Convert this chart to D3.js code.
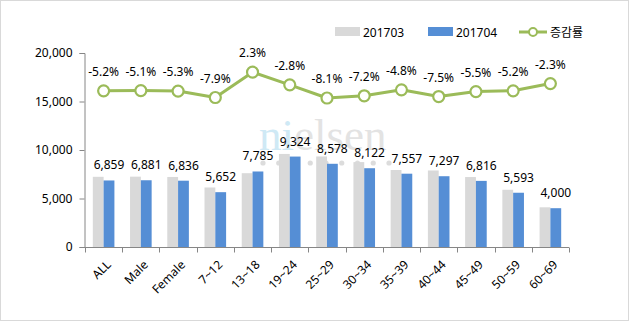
<!DOCTYPE html>
<html><head><meta charset="utf-8">
<script src="https://cdn.jsdelivr.net/npm/d3@7"></script>
<style>
html,body{margin:0;padding:0;background:#fff;}
svg text{font-family:"Noto Sans","Noto Sans CJK KR",sans-serif;}
</style></head>
<body><svg id="c" width="630" height="322"></svg>
<script>
const categories = ["ALL","Male","Female","7~12","13~18","19~24","25~29","30~34","35~39","40~44","45~49","50~59","60~69"];
const series201703 = [7235,7251,7219,6137,7610,9593,9334,8752,7938,7889,7213,5900,4094];
const series201704 = [6859,6881,6836,5652,7785,9324,8578,8122,7557,7297,6816,5593,4000];
const rate = [-5.2,-5.1,-5.3,-7.9,2.3,-2.8,-8.1,-7.2,-4.8,-7.5,-5.5,-5.2,-2.3];
const yTicks = [0,5000,10000,15000,20000];
const legendLabels = ["201703","201704","증감률"];

const svg = d3.select("#c");
svg.append("rect").attr("x",0.5).attr("y",0.5).attr("width",628).attr("height",320)
  .attr("fill","#fff").attr("stroke","#d9d9d9");

const x = d3.scaleBand().domain(categories).range([85,569]).padding(0);
const y = d3.scaleLinear().domain([0,20000]).range([247,53]);
const y2 = d3.scaleLinear().domain([-68,10]).range([247,53]);
const bw = 10.8;
const fmtRate = v => (v<0?"-":"") + Math.abs(v).toFixed(1) + "%";

// watermark
const wm = svg.append("text").attr("x",259).attr("y",150)
  .style("font-family","'Liberation Serif','DejaVu Serif',serif").style("font-size","45px");
wm.append("tspan").attr("fill","#cfe9f5").text("ni");
wm.append("tspan").attr("fill","#e3e3e3").text("elsen");
svg.append("g").selectAll("circle").data(d3.range(9)).join("circle")
  .attr("cx",d=>263+d*15.75).attr("cy",163).attr("r",2.6).attr("fill","#dcdcdc");

// bars
const g = svg.append("g");
g.selectAll(".b1").data(categories).join("rect")
  .attr("x",d=>x(d)+x.bandwidth()/2-bw).attr("y",(d,i)=>y(series201703[i]))
  .attr("width",bw).attr("height",(d,i)=>y(0)-y(series201703[i])).attr("fill","#d9d9d9");
g.selectAll(".b2").data(categories).join("rect")
  .attr("x",d=>x(d)+x.bandwidth()/2).attr("y",(d,i)=>y(series201704[i]))
  .attr("width",bw).attr("height",(d,i)=>y(0)-y(series201704[i])).attr("fill","#558ed5");
g.selectAll(".vl").data(categories).join("text")
  .attr("x",d=>x(d)+x.bandwidth()/2+bw/2).attr("y",(d,i)=>y(series201704[i])-11)
  .attr("text-anchor","middle").style("font-size","12px").attr("fill","#000")
  .text((d,i)=>d3.format(",")(series201704[i]));

// y axis
const ya = svg.append("g").attr("transform","translate(84.5,0)")
  .call(d3.axisLeft(y).tickValues(yTicks).tickFormat(d3.format(",")).tickSize(5).tickPadding(7));
ya.select(".domain").attr("stroke","#868686");
ya.selectAll(".tick line").attr("stroke","#868686");
ya.selectAll("text").style("font-size","12px").attr("fill","#000");

// x axis
const xa = svg.append("g").attr("transform","translate(0,247.5)");
xa.append("line").attr("x1",84).attr("x2",569).attr("stroke","#868686");
xa.selectAll(".t").data(d3.range(categories.length+1)).join("line")
  .attr("x1",i=>Math.round(85+i*x.step())+0.5).attr("x2",i=>Math.round(85+i*x.step())+0.5)
  .attr("y1",0).attr("y2",5).attr("stroke","#868686");
xa.selectAll(".xl").data(categories).join("text")
  .attr("transform",d=>`translate(${x(d)+x.bandwidth()/2+5},${15}) rotate(-45)`)
  .attr("text-anchor","end").attr("dy","0.35em").style("font-size","12px").attr("fill","#000")
  .text(d=>d);

// line
const pts = categories.map((c,i)=>[x(c)+x.bandwidth()/2, y2(rate[i])]);
svg.append("path").attr("d",d3.line()(pts)).attr("fill","none")
  .attr("stroke","#9bbb59").attr("stroke-width",3).attr("stroke-linejoin","round");
svg.selectAll(".pt").data(pts).join("circle").attr("cx",d=>d[0]).attr("cy",d=>d[1])
  .attr("r",5.5).attr("fill","#fff").attr("stroke","#9bbb59").attr("stroke-width",2.2);
svg.selectAll(".rl").data(pts).join("text").attr("x",d=>d[0]).attr("y",d=>d[1]-15)
  .attr("text-anchor","middle").style("font-size","12px").attr("fill","#000")
  .text((d,i)=>fmtRate(rate[i]));

// legend
const lg = svg.append("g");
lg.append("rect").attr("x",335).attr("y",27).attr("width",25).attr("height",9).attr("fill","#d9d9d9");
lg.append("text").attr("x",363).attr("y",37).style("font-size","12px").text(legendLabels[0]);
lg.append("rect").attr("x",428).attr("y",27).attr("width",25).attr("height",9).attr("fill","#558ed5");
lg.append("text").attr("x",456).attr("y",37).style("font-size","12px").text(legendLabels[1]);
lg.append("line").attr("x1",519).attr("x2",547).attr("y1",32).attr("y2",32).attr("stroke","#9bbb59").attr("stroke-width",3);
lg.append("circle").attr("cx",533).attr("cy",32).attr("r",4).attr("fill","#fff").attr("stroke","#9bbb59").attr("stroke-width",2);
lg.append("text").attr("x",550).attr("y",37).style("font-size","12px").text(legendLabels[2]);
</script></body></html>
